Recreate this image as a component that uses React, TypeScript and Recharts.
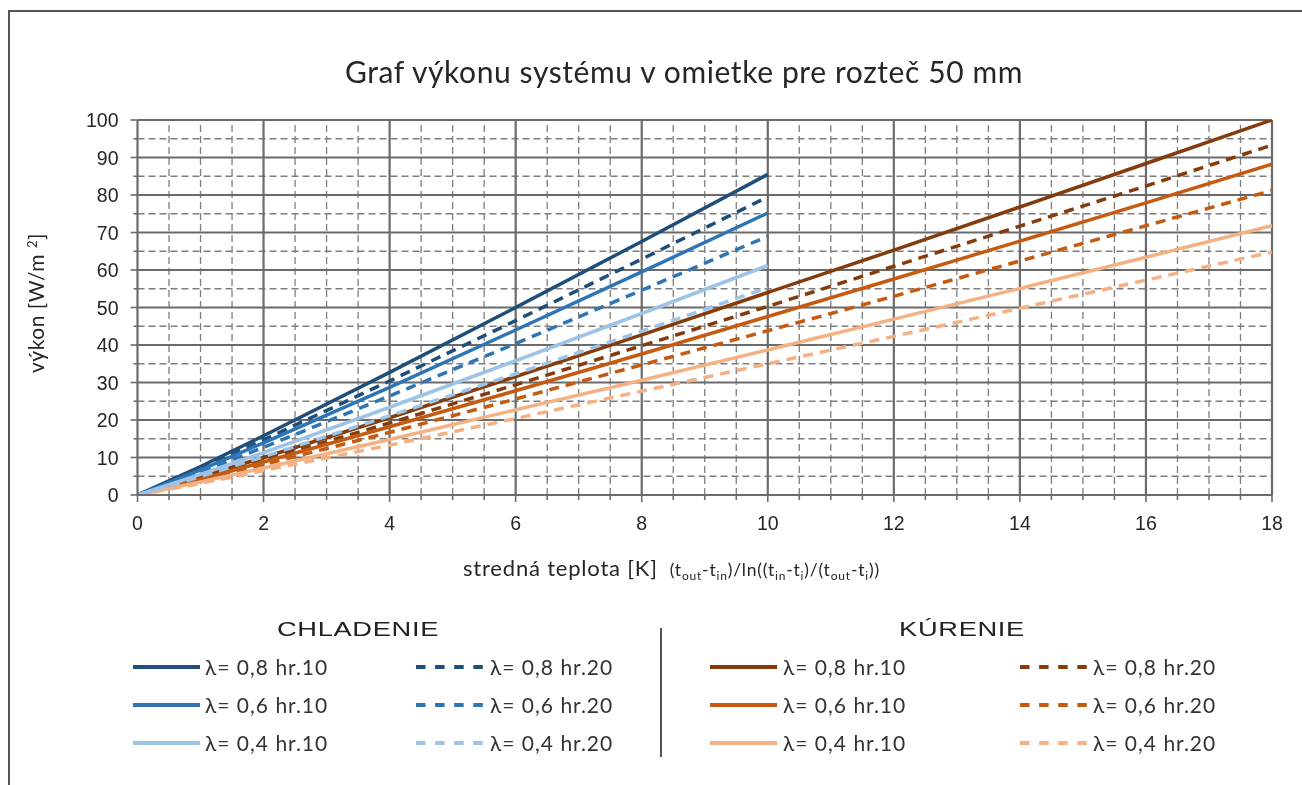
import React from 'react';
import { LineChart, Line, XAxis, YAxis, ReferenceLine } from 'recharts';

// ---------- data ----------
const xCooling = [0, 1, 2, 4, 6, 8, 10];
const xHeating = [0, 1, 2, 4, 6, 8, 10, 12, 14, 16, 18];

const cool08h10 = [0, 7.6, 15.8, 32.7, 50.0, 67.6, 85.5];
const cool08h20 = [0, 7.1, 14.7, 30.4, 46.5, 62.9, 79.5];
const cool06h10 = [0, 6.7, 13.9, 28.7, 44.0, 59.5, 75.2];
const cool06h20 = [0, 6.1, 12.7, 26.4, 40.4, 54.6, 69.0];
const cool04h10 = [0, 5.5, 11.3, 23.4, 35.8, 48.4, 61.2];
const cool04h20 = [0, 4.9, 10.2, 21.1, 32.3, 43.7, 55.3];

const heat08h10 = [0, 4.8, 10.0, 20.6, 31.6, 42.7, 54.0, 65.3, 76.8, 88.4, 100];
const heat08h20 = [0, 4.5, 9.3, 19.2, 29.4, 39.8, 50.3, 61.0, 71.7, 82.4, 93.3];
const heat06h10 = [0, 4.2, 8.8, 18.2, 27.8, 37.6, 47.6, 57.6, 67.7, 77.9, 88.2];
const heat06h20 = [0, 3.9, 8.1, 16.7, 25.6, 34.7, 43.8, 53.0, 62.4, 71.8, 81.2];
const heat04h10 = [0, 3.5, 7.2, 14.8, 22.7, 30.6, 38.7, 46.9, 55.1, 63.4, 71.8];
const heat04h20 = [0, 3.1, 6.5, 13.3, 20.4, 27.7, 35.0, 42.3, 49.8, 57.3, 64.8];

const xTicks = [0, 0.5, 1, 1.5, 2, 2.5, 3, 3.5, 4, 4.5, 5, 5.5, 6, 6.5, 7, 7.5, 8, 8.5, 9, 9.5, 10, 10.5, 11, 11.5, 12, 12.5, 13, 13.5, 14, 14.5, 15, 15.5, 16, 16.5, 17, 17.5, 18];
const yTicks = [0, 5, 10, 15, 20, 25, 30, 35, 40, 45, 50, 55, 60, 65, 70, 75, 80, 85, 90, 95, 100];

const legendLabels = ['λ= 0,8 hr.10', 'λ= 0,8 hr.20', 'λ= 0,6 hr.10', 'λ= 0,6 hr.20', 'λ= 0,4 hr.10', 'λ= 0,4 hr.20'];

// x-axis formula parts: [text, isSubscript]
const formulaParts: [string, boolean][] = [
  ['(t', false], ['out', true], ['-t', false], ['in', true], [')/ln((t', false], ['in', true],
  ['-t', false], ['i', true], [')/(t', false], ['out', true], ['-t', false], ['i', true], ['))', false],
];

const BLUE_DARK = '#1f4e79';
const BLUE_MID = '#2e75b6';
const BLUE_LIGHT = '#9dc3e6';
const BROWN_DARK = '#843c0c';
const ORANGE_MID = '#c55a11';
const ORANGE_LIGHT = '#f4b183';

type Series = { key: string; label: string; color: string; dashed: boolean; xs: number[]; ys: number[] };

const coolingSeries: Series[] = [
  { key: 'c08h10', label: legendLabels[0], color: BLUE_DARK, dashed: false, xs: xCooling, ys: cool08h10 },
  { key: 'c08h20', label: legendLabels[1], color: BLUE_DARK, dashed: true, xs: xCooling, ys: cool08h20 },
  { key: 'c06h10', label: legendLabels[2], color: BLUE_MID, dashed: false, xs: xCooling, ys: cool06h10 },
  { key: 'c06h20', label: legendLabels[3], color: BLUE_MID, dashed: true, xs: xCooling, ys: cool06h20 },
  { key: 'c04h10', label: legendLabels[4], color: BLUE_LIGHT, dashed: false, xs: xCooling, ys: cool04h10 },
  { key: 'c04h20', label: legendLabels[5], color: BLUE_LIGHT, dashed: true, xs: xCooling, ys: cool04h20 },
];
const heatingSeries: Series[] = [
  { key: 'h08h10', label: legendLabels[0], color: BROWN_DARK, dashed: false, xs: xHeating, ys: heat08h10 },
  { key: 'h08h20', label: legendLabels[1], color: BROWN_DARK, dashed: true, xs: xHeating, ys: heat08h20 },
  { key: 'h06h10', label: legendLabels[2], color: ORANGE_MID, dashed: false, xs: xHeating, ys: heat06h10 },
  { key: 'h06h20', label: legendLabels[3], color: ORANGE_MID, dashed: true, xs: xHeating, ys: heat06h20 },
  { key: 'h04h10', label: legendLabels[4], color: ORANGE_LIGHT, dashed: false, xs: xHeating, ys: heat04h10 },
  { key: 'h04h20', label: legendLabels[5], color: ORANGE_LIGHT, dashed: true, xs: xHeating, ys: heat04h20 },
];

const GRID_MAJOR = '#6b6b6b';
const GRID_MINOR = '#7e7e7e';
const TEXT = '#262626';
const HUMAN_FONT = 'Lato, "Open Sans", sans-serif';
const TICK_FONT = '"Liberation Sans", Arial, sans-serif';

const XTick = (props: any) => {
  const { x, y, payload } = props;
  const v = payload.value as number;
  const major = v % 2 === 0;
  return (
    <g>
      <line x1={x} x2={x} y1={y} y2={y + (major ? 7 : 5)} stroke={GRID_MAJOR} strokeWidth={1.6} />
      {major && (
        <text x={x} y={y + 35} textAnchor="middle" fontFamily={TICK_FONT} fontSize={19.5} fill={TEXT}>
          {v}
        </text>
      )}
    </g>
  );
};

const YTick = (props: any) => {
  const { x, y, payload } = props;
  const v = payload.value as number;
  const major = v % 10 === 0;
  return (
    <g>
      <line x1={x} x2={x - (major ? 7 : 4)} y1={y} y2={y} stroke={GRID_MAJOR} strokeWidth={1.6} />
      {major && (
        <text x={x - 19} y={y} dy="0.36em" textAnchor="end" fontFamily={TICK_FONT} fontSize={19.5} fill={TEXT}>
          {v}
        </text>
      )}
    </g>
  );
};

const toData = (s: Series) => s.xs.map((x, i) => ({ x, y: s.ys[i] }));

const LegendItem = ({ s, lx, tx, y }: { s: Series; lx: number; tx: number; y: number }) => (
  <g>
    <line
      x1={lx}
      x2={lx + 67}
      y1={y}
      y2={y}
      stroke={s.color}
      strokeWidth={4}
      strokeDasharray={s.dashed ? '9.5 9.6' : undefined}
    />
    <text x={tx} y={y} dy="0.36em" fontFamily={HUMAN_FONT} fontSize={21} letterSpacing={1} fill="#333">
      {s.label}
    </text>
  </g>
);

export default function App() {
  const xMinor = xTicks.filter((v) => v % 2 !== 0);
  const xMajor = xTicks.filter((v) => v % 2 === 0 && v !== 0);
  const yMinor = yTicks.filter((v) => v % 10 !== 0);
  const yMajor = yTicks.filter((v) => v % 10 === 0 && v !== 0);
  const rowsY = [659, 697, 735];

  const formulaSpans: React.ReactNode[] = [];
  let prevSub = false;
  formulaParts.forEach(([t, isSub], i) => {
    let dy = 0;
    if (isSub && !prevSub) dy = 4;
    if (!isSub && prevSub) dy = -4;
    formulaSpans.push(
      <tspan key={'f' + i} dx={i === 0 ? 12 : 0} dy={dy} fontSize={isSub ? 12 : 17.5}>
        {t}
      </tspan>
    );
    prevSub = isSub;
  });

  return (
    <div style={{ position: 'relative', width: 1294, height: 769, background: '#fff' }}>
      <div
        style={{
          position: 'fixed',
          left: 8,
          top: 10,
          width: 1294,
          height: 775,
          borderTop: '2px solid #555',
          borderLeft: '2px solid #555',
          boxSizing: 'border-box',
          pointerEvents: 'none',
        }}
      />
      <div style={{ position: 'absolute', left: 0, top: 0 }}>
        <LineChart width={1294} height={600} margin={{ top: 112, right: 30, bottom: 0, left: 0 }}>
          {xMinor.map((v) => (
            <ReferenceLine key={'xm' + v} x={v} stroke={GRID_MINOR} strokeWidth={1.3} strokeDasharray="7 4" zIndex={-100} />
          ))}
          {yMinor.map((v) => (
            <ReferenceLine key={'ym' + v} y={v} stroke={GRID_MINOR} strokeWidth={1.3} strokeDasharray="7 4" zIndex={-100} />
          ))}
          {xMajor.map((v) => (
            <ReferenceLine key={'xM' + v} x={v} stroke={GRID_MAJOR} strokeWidth={2.2} zIndex={-90} />
          ))}
          {yMajor.map((v) => (
            <ReferenceLine key={'yM' + v} y={v} stroke={GRID_MAJOR} strokeWidth={2.2} zIndex={-90} />
          ))}
          <XAxis
            dataKey="x"
            type="number"
            domain={[0, 18]}
            ticks={xTicks}
            interval={0}
            height={113}
            tickSize={0}
            tickMargin={0}
            tickLine={false}
            tick={<XTick />}
            axisLine={{ stroke: GRID_MAJOR, strokeWidth: 2.2 }}
            allowDataOverflow
          />
          <YAxis
            type="number"
            domain={[0, 100]}
            ticks={yTicks}
            interval={0}
            width={129.5}
            tickSize={0}
            tickMargin={0}
            tickLine={false}
            tick={<YTick />}
            axisLine={{ stroke: GRID_MAJOR, strokeWidth: 2.2 }}
            allowDataOverflow
          />
          {[...heatingSeries, ...coolingSeries].map((s) => (
            <Line
              key={s.key}
              data={toData(s)}
              dataKey="y"
              type="linear"
              stroke={s.color}
              strokeWidth={3.5}
              strokeDasharray={s.dashed ? '10 7' : undefined}
              dot={false}
              activeDot={false}
              isAnimationActive={false}
            />
          ))}
        </LineChart>
      </div>
      <svg width={1294} height={769} style={{ position: 'absolute', left: 0, top: 0, pointerEvents: 'none' }}>
        <text x={676} y={75} textAnchor="middle" fontFamily={HUMAN_FONT} fontSize={30} letterSpacing={0.6} fill={TEXT}>
          Graf výkonu systému v omietke pre rozteč 50 mm
        </text>
        <text
          transform="translate(28,295) rotate(-90)"
          textAnchor="middle"
          dy="0.36em"
          fontFamily={HUMAN_FONT}
          fontSize={21}
          letterSpacing={0.5}
          fill={TEXT}
        >
          výkon [W/m <tspan dy={-7} fontSize={13}>2</tspan>
          <tspan dy={7}>]</tspan>
        </text>
        <text x={455} y={568} fontFamily={HUMAN_FONT} fontSize={22} letterSpacing={0.8} fill={TEXT}>
          stredná teplota [K]
          {formulaSpans}
        </text>

        <text transform="translate(350,628) scale(1.3,1)" textAnchor="middle" fontFamily={TICK_FONT} fontSize={21} letterSpacing={0.5} fill="#222">
          CHLADENIE
        </text>
        <text transform="translate(954,628) scale(1.3,1)" textAnchor="middle" fontFamily={TICK_FONT} fontSize={21} letterSpacing={0.5} fill="#222">
          KÚRENIE
        </text>
        <line x1={653} x2={653} y1={620} y2={749} stroke="#555" strokeWidth={2} />

        {[0, 1, 2].map((r) => (
          <g key={'row' + r}>
            <LegendItem s={coolingSeries[r * 2]} lx={125} tx={197} y={rowsY[r]} />
            <LegendItem s={coolingSeries[r * 2 + 1]} lx={408} tx={482} y={rowsY[r]} />
            <LegendItem s={heatingSeries[r * 2]} lx={702} tx={775} y={rowsY[r]} />
            <LegendItem s={heatingSeries[r * 2 + 1]} lx={1012} tx={1085} y={rowsY[r]} />
          </g>
        ))}
      </svg>
    </div>
  );
}
